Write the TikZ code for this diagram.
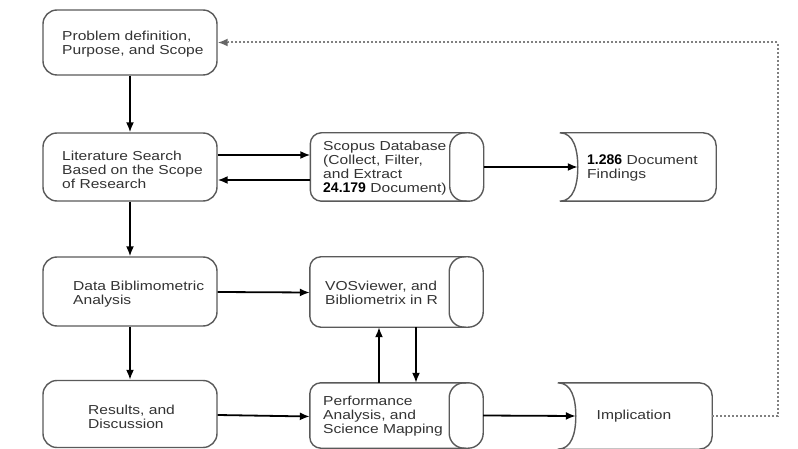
\documentclass[tikz,border=0pt]{standalone}
\usepackage{fontspec}
\setmainfont{Liberation Sans}[FakeStretch=1.2]
\newfontfamily\numfont{Liberation Sans}
\usetikzlibrary{arrows.meta}
\definecolor{bord}{HTML}{5A5A5A}
\definecolor{txtc}{HTML}{333333}
\begin{document}
\begin{tikzpicture}[x=1pt,y=-1pt,
  box/.style={draw=bord,line width=1.4pt,rounded corners=14pt,minimum width=174pt,inner sep=0pt},
  frame/.style={draw=none,inner sep=0pt},
  outl/.style={draw=bord,line width=1.4pt},
  txt/.style={anchor=west,align=left,text=txtc,inner sep=0pt,font=\fontsize{13}{14}\selectfont},
  arr/.style={line width=1.8pt,-{Latex[length=10pt,width=8pt]}},
  dotl/.style={draw=gray,line width=2pt,dash pattern=on 2pt off 2pt}]
\path[fill=white] (0,0) rectangle (798,449);
\useasboundingbox (0,0) rectangle (798,449);
% left column
\node[box,minimum height=65pt] (b1) at (130,42.5) {};
\node[box,minimum height=68pt] (b2) at (130,167) {};
\node[box,minimum height=69pt] (b3) at (130,291.5) {};
\node[box,minimum height=67pt] (b4) at (130,414) {};
\node[txt] (t1) at (62,44) {Problem definition,\\Purpose, and Scope};
\node[txt] (t2) at (62,169.5) {Literature Search\\Based on the Scope\\of Research};
\node[txt] (t3) at (73,294) {Data Biblimometric\\Analysis};
\node[txt] (t4) at (88,416.5) {Results, and\\Discussion};
% cylinders
\node[frame,minimum width=173pt,minimum height=68pt] (sc) at (397,167) {};
\node[frame,minimum width=173pt,minimum height=70pt] (vo) at (396.5,292) {};
\node[frame,minimum width=173pt,minimum height=65pt] (pe) at (396.5,415.5) {};
\foreach \n in {sc,vo,pe}{
  \draw[outl,rounded corners=11pt] ([xshift=-17pt]\n.north east) -- (\n.north west) -- (\n.south west) -- ([xshift=-17pt]\n.south east);
  \draw[outl,rounded corners=15pt] ([xshift=-34pt]\n.north east) rectangle (\n.south east);
}
\node[txt] (tsc) at (323,168.5) {Scopus Database\\(Collect, Filter,\\and Extract\\{\numfont\bfseries\color{black}\fontsize{14}{14}\selectfont 24.179} Document)};
\node[txt] (tvo) at (325,293) {VOSviewer, and\\Bibliometrix in R};
\node[txt] (tpe) at (323,416.5) {Performance\\Analysis, and\\Science Mapping};
% stored-data shapes
\node[frame,minimum width=156pt,minimum height=68pt] (fi) at (638,167) {};
\node[frame,minimum width=154pt,minimum height=66pt] (im) at (635,416) {};
\foreach \n in {fi,im}{
  \draw[outl] (\n.north west) .. controls +(14,0) and +(0,-17) .. ([xshift=18pt]\n.west)
     .. controls +(0,17) and +(14,0) .. (\n.south west)
     [rounded corners=13pt] -- (\n.south east) -- (\n.north east) [sharp corners] -- cycle;
}
\node[txt] (tfi) at (587,168) {{\numfont\bfseries\color{black}\fontsize{14}{14}\selectfont 1.286} Document\\Findings};
\node[txt,anchor=center] (tim) at (634,416) {Implication};
% arrows
\draw[arr] (b1.south) -- (b2.north);
\draw[arr] (b2.south) -- (b3.north);
\draw[arr] (b3.south) -- (b4.north);
\draw[arr] ([yshift=12pt]b2.east) -- ([yshift=12pt]sc.west);
\draw[arr] ([yshift=-13pt]sc.west) -- ([yshift=-13pt]b2.east);
\draw[arr] (sc.east) -- ([xshift=18pt]fi.west);
\draw[arr] ([yshift=-0.5pt]b3.east) -- ([yshift=-0.5pt]vo.west);
\draw[arr] ([yshift=-1pt]b4.east) -- ([yshift=-1pt]pe.west);
\draw[arr] ([xshift=-17.5pt]pe.north) -- ([xshift=-17.5pt]vo.south);
\draw[arr] ([xshift=19.5pt]vo.south) -- ([xshift=19.5pt]pe.north);
\draw[arr] (pe.east) -- ([xshift=18pt]im.west);
\coordinate (dc) at (778,42.5);
\draw[dotl] (im.east) -| (dc) -- ([xshift=10pt]b1.east);
\draw[line width=1.8pt,draw=gray!80!black,-{Latex[length=10pt,width=8pt]}] ([xshift=10pt]b1.east) -- (b1.east);
\end{tikzpicture}
\end{document}
